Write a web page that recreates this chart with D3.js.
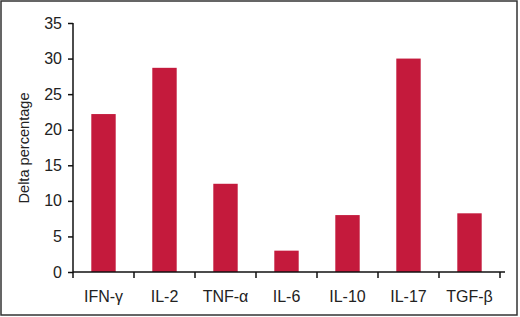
<!DOCTYPE html>
<html>
<head>
<meta charset="utf-8">
<script src="https://cdn.jsdelivr.net/npm/d3@7"></script>
<style>
  body { margin: 0; background: #fff; }
  svg text { font-family: "Liberation Sans", Arial, sans-serif; fill: #222; }
</style>
</head>
<body>
<div id="chart"></div>
<script>
const width = 520;
const height = 317;
const margin = {top: 23, right: 15, bottom: 45, left: 73};

// data
const cytokines = ["IFN-γ", "IL-2", "TNF-α", "IL-6", "IL-10", "IL-17", "TGF-β"];
const delta = [22.2, 28.7, 12.4, 3.0, 8.0, 30.0, 8.25];
const yTicks = [0, 5, 10, 15, 20, 25, 30, 35];

const plotW = 500 - margin.left;
const plotH = 272 - margin.top;

const svg = d3.select("#chart")
  .append("svg")
    .attr("width", width)
    .attr("height", height);

// outer frame
svg.append("rect")
  .attr("x", 1)
  .attr("y", 1)
  .attr("width", 516)
  .attr("height", 314)
  .attr("fill", "none")
  .attr("stroke", "#333")
  .attr("stroke-width", 1.5);

const g = svg.append("g")
  .attr("transform", "translate(" + margin.left + "," + margin.top + ")");

const x = d3.scaleBand()
  .domain(cytokines)
  .range([0, plotW])
  .paddingInner(0.6)
  .paddingOuter(0.3);

const y = d3.scaleLinear()
  .domain([0, 35])
  .range([plotH, 0]);

// bars
g.selectAll("rect.bar")
  .data(cytokines)
  .enter()
  .append("rect")
    .attr("class", "bar")
    .attr("x", d => x(d))
    .attr("y", (d, i) => y(delta[i]))
    .attr("width", x.bandwidth())
    .attr("height", (d, i) => plotH - y(delta[i]))
    .attr("fill", "#c41a3c");

// y axis
const yAxis = g.append("g")
  .call(d3.axisLeft(y).tickValues(yTicks).tickSize(5).tickPadding(6));

// x axis: ticks at band edges
const edges = d3.range(cytokines.length + 1).map(i => i * plotW / cytokines.length);
const xAxis = g.append("g")
  .attr("transform", "translate(0," + plotH + ")");

xAxis.append("line")
  .attr("x1", 0).attr("x2", plotW + 5)
  .attr("y1", 0).attr("y2", 0)
  .attr("stroke", "#111")
  .attr("stroke-width", 1.5);

xAxis.selectAll("line.tick")
  .data(edges)
  .enter()
  .append("line")
    .attr("class", "tick")
    .attr("x1", d => d).attr("x2", d => d)
    .attr("y1", 0).attr("y2", 6)
    .attr("stroke", "#111")
    .attr("stroke-width", 1.5);

xAxis.selectAll("text")
  .data(cytokines)
  .enter()
  .append("text")
    .attr("x", d => x(d) + x.bandwidth() / 2)
    .attr("y", 30)
    .attr("text-anchor", "middle")
    .attr("font-size", "16px")
    .text(d => d);

yAxis.select(".domain")
  .attr("stroke", "#111")
  .attr("stroke-width", 1.5)
  .attr("d", "M0," + (plotH + 0.5) + "V0");
yAxis.selectAll(".tick line").attr("stroke", "#111").attr("stroke-width", 1.5);
yAxis.selectAll(".tick text")
  .attr("font-size", "16px")
  .attr("font-family", "Liberation Sans, Arial, sans-serif")
  .attr("fill", "#222");

// y axis label
svg.append("text")
  .attr("transform", "translate(29,148) rotate(-90)")
  .attr("text-anchor", "middle")
  .attr("font-size", "15px")
  .attr("textLength", 111)
  .attr("lengthAdjust", "spacingAndGlyphs")
  .text("Delta percentage");
</script>
</body>
</html>
